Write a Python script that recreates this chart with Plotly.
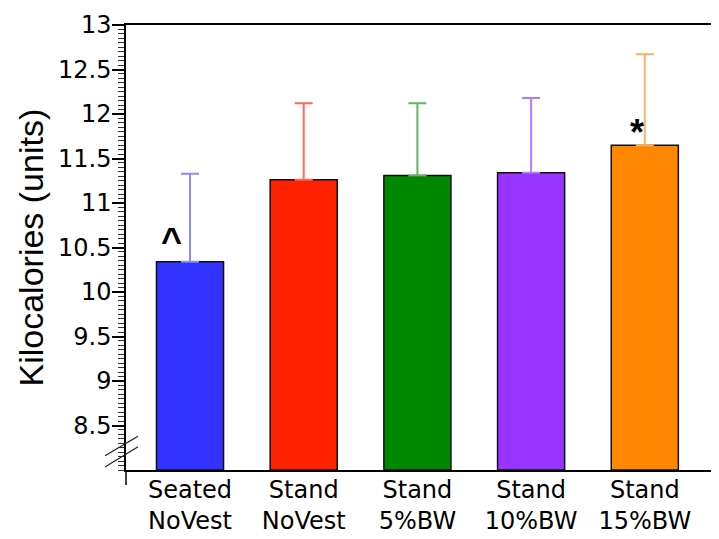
import plotly.graph_objects as go

categories = ["Seated<br>NoVest", "Stand<br>NoVest", "Stand<br>5%BW", "Stand<br>10%BW", "Stand<br>15%BW"]
means = [10.34, 11.26, 11.31, 11.34, 11.65]
err_plus = [0.99, 0.86, 0.81, 0.84, 1.02]
bar_colors = ["#3333ff", "#ff2200", "#008800", "#9933ff", "#ff8800"]
err_colors = ["#8c8cff", "#ff6a5a", "#66b266", "#b877ff", "#ffb066"]
y_ticks = [8.5, 9, 9.5, 10, 10.5, 11, 11.5, 12, 12.5, 13]
y_ticktext = ["8.5", "9", "9.5", "10", "10.5", "11", "11.5", "12", "12.5", "13"]

TICKFONT = "DejaVu Sans, Verdana, sans-serif"
FONT = "Liberation Sans, Arial, Helvetica, sans-serif"
fig = go.Figure()
for i, c in enumerate(categories):
    fig.add_trace(go.Bar(
        x=[i], y=[means[i] - 8], base=8,
        width=0.59,
        marker=dict(color=bar_colors[i], line=dict(color="#111111", width=1.5)),
        error_y=dict(type="data", symmetric=False, array=[err_plus[i]], arrayminus=[0],
                     color=err_colors[i], thickness=2, width=9),
        showlegend=False, hoverinfo="skip",
    ))

# significance marks
fig.add_annotation(x=-0.167, y=10.575, text="<b>^</b>", showarrow=False,
                   font=dict(size=36, color="black", family=FONT), yanchor="middle")
fig.add_annotation(x=3.93, y=11.79, text="<b>*</b>", showarrow=False,
                   font=dict(size=36, color="black", family=FONT), yanchor="middle")

# y-axis title
fig.add_annotation(xref="paper", yref="paper", x=-96/591, y=0.5, text="Kilocalories (units)",
                   textangle=-90, showarrow=False, xanchor="center", yanchor="middle",
                   font=dict(size=34, color="black", family=FONT))

# axis break marks
fig.add_shape(type="line", xref="paper", yref="y", x0=-0.0355, y0=8.16, x1=0.0203, y1=8.38,
              line=dict(color="#222222", width=1.2))
fig.add_shape(type="line", xref="paper", yref="y", x0=-0.0355, y0=8.035, x1=0.0203, y1=8.26,
              line=dict(color="#222222", width=1.2))
# extension of y axis below the x axis
fig.add_shape(type="line", xref="paper", yref="paper", x0=0, y0=0, x1=0, y1=-15/445,
              line=dict(color="black", width=1.5))

# the page adds an 8px body margin, so the figure is 8px smaller than the window
fig.update_layout(
    width=711, height=531,
    margin=dict(l=118, r=2, t=17, b=69),
    paper_bgcolor="white", plot_bgcolor="white",
    font=dict(family=TICKFONT, size=24, color="black"),
)
fig.update_xaxes(
    range=[-0.563, 4.635], tickvals=list(range(5)), ticktext=categories,
    showline=True, linecolor="black", linewidth=1.5, mirror=True,
    ticks="", ticklen=0, ticklabelstandoff=-3, showgrid=False, zeroline=False, automargin=False,
    tickfont=dict(size=24, family=TICKFONT),
)
fig.update_yaxes(
    range=[8, 13], tickvals=y_ticks, ticktext=y_ticktext,
    showline=True, linecolor="black", linewidth=1.5, mirror=True,
    ticks="outside", ticklen=12, tickwidth=1.5, tickcolor="black", ticklabelstandoff=-4,
    minor=dict(dtick=0.05, ticks="outside", ticklen=6, tickwidth=1, tickcolor="#333333", showgrid=False),
    showgrid=False, zeroline=False, automargin=False,
    tickfont=dict(size=24, family=TICKFONT),
)
fig.write_html("out.html")
